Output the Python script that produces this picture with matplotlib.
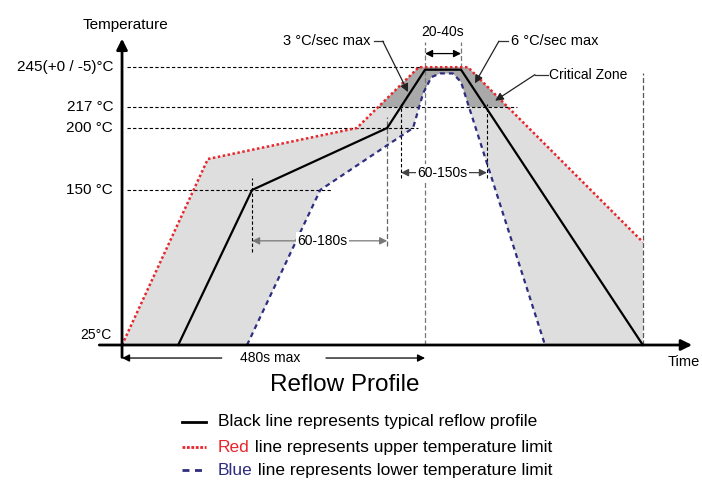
import numpy as np
import matplotlib
matplotlib.use('Agg')
import matplotlib.pyplot as plt
from matplotlib.patches import Polygon, Rectangle

plt.rcParams['font.family'] = ['Liberation Sans', 'DejaVu Sans']

# profile points (time in s, temperature in C)
red_t = [0, 136, 372, 470, 548, 825]
red_T = [25, 175, 200, 249, 249, 108]
black_t = [89, 206, 420, 480, 537, 825]
black_T = [25, 150, 200, 247, 247, 25]
blue_t = [198, 314, 461, 477, 490, 504, 524, 537, 670]
blue_T = [25, 150, 200, 228, 241, 244, 244, 237, 25]

temp_ticks = [249, 217, 200, 150]
temp_labels = ['245(+0 / -5)°C', '217 °C', '200 °C', '150 °C']
ref_end = [472, 625, 469, 333]   # where each horizontal guide stops
critical_T = 217

RED = '#e8262b'
BLUE = '#2e2d7f'
LIGHT = '#dedede'
DARK = '#a9a9a9'

fig = plt.figure(figsize=(7.02, 4.87), dpi=100)
ax = fig.add_axes([0, 0, 1, 1])
ax.set_xlim(-193.3, 918.7)
ax.set_ylim(-89.5, 303.2)
ax.axis('off')

# ---- shaded band between upper and lower limit ----
band = list(zip(red_t, red_T)) + [(red_t[-1], 25)] + list(zip(blue_t[::-1], blue_T[::-1]))
ax.add_patch(Polygon(band, closed=True, facecolor=LIGHT, edgecolor='none', zorder=1))
crit = Polygon(band, closed=True, facecolor=DARK, edgecolor='none', zorder=1.5)
ax.add_patch(crit)
clip = Rectangle((-200, critical_T), 1200, 200, transform=ax.transData)
crit.set_clip_path(clip)

# ---- guide lines ----
dash = dict(color='k', lw=0.8, ls=(0, (3, 2)), zorder=2)
for T, te in zip(temp_ticks, ref_end):
    ax.plot([8, te], [T, T], **dash)
ax.plot([206, 206], [100, 160], **dash)
ax.plot([420, 420], [105, 209], color='#666', lw=0.9, ls=(0, (4, 2)), zorder=2)
ax.plot([442, 442], [160, 219], **dash)
ax.plot([578, 578], [160, 219], **dash)
ax.plot([480, 480], [25, 269], color='#777', lw=0.9, ls=(0, (4, 2)), zorder=2)
ax.plot([537, 537], [248, 269], color='#777', lw=0.9, ls=(0, (4, 2)), zorder=2)
ax.plot([825, 825], [25, 244], color='#555', lw=0.9, ls=(0, (4, 2)), zorder=2)

# ---- profile lines ----
ax.plot(red_t, red_T, color=RED, lw=1.8, ls=(0, (1, 1)), zorder=4)
ax.plot(blue_t, blue_T, color=BLUE, lw=1.6, ls=(0, (2.2, 1.8)), zorder=4)
ax.plot(black_t, black_T, color='k', lw=1.6, zorder=5)

# ---- axes with arrow heads ----
ax.annotate('', xy=(0, 272), xytext=(0, 15),
            arrowprops=dict(arrowstyle='-|>', lw=2, color='k', mutation_scale=16,
                            shrinkA=0, shrinkB=0), zorder=6)
ax.annotate('', xy=(903, 25), xytext=(-36, 25),
            arrowprops=dict(arrowstyle='-|>', lw=2, color='k', mutation_scale=16,
                            shrinkA=0, shrinkB=0), zorder=6)
ax.text(5, 283, 'Temperature', ha='center', va='center', fontsize=11)
ax.text(889, 11, 'Time', ha='center', va='center', fontsize=10.5)
for T, lab in zip(temp_ticks, temp_labels):
    ax.text(-14, T, lab, ha='right', va='center', fontsize=11)
ax.text(-16, 33, '25°C', ha='right', va='center', fontsize=10)

# ---- interval arrows ----
def harrow(x0, x1, y, color='k', both=True):
    style = '<|-|>' if both else '-|>'
    ax.annotate('', xy=(x1, y), xytext=(x0, y),
                arrowprops=dict(arrowstyle=style, color=color, lw=0.9, mutation_scale=11,
                                shrinkA=0, shrinkB=0), zorder=6)

harrow(158, 0, 14.5, both=False)
harrow(323, 480, 14.5, both=False)
ax.text(234, 14.5, '480s max', ha='center', va='center', fontsize=10)

harrow(206, 420, 109, color='#777')
ax.text(318, 109, '60-180s', ha='center', va='center', fontsize=10, zorder=7,
        bbox=dict(facecolor='white', edgecolor='none', pad=1))

harrow(442, 578, 164, color='#444')
ax.text(508, 164, '60-150s', ha='center', va='center', fontsize=10, zorder=7,
        bbox=dict(facecolor='white', edgecolor='none', pad=1))

harrow(480, 537, 260)
ax.text(508, 277, '20-40s', ha='center', va='center', fontsize=10)

# ---- leader notes ----
def leader(text, txy, ha, p0, p1, tip, fs):
    ax.text(txy[0], txy[1], text, ha=ha, va='center', fontsize=fs)
    ax.plot([p0[0], p1[0]], [p0[1], p1[1]], color='#333', lw=0.9, zorder=6)
    ax.annotate('', xy=tip, xytext=p1,
                arrowprops=dict(arrowstyle='-|>', color='#222', lw=0.9, mutation_scale=12,
                                shrinkA=0, shrinkB=0), zorder=6)

leader('3 °C/sec max', (394, 270), 'right', (399, 270), (413, 270), (453, 229), 10.5)
leader('6 °C/sec max', (616, 270), 'left', (611, 270), (597, 270), (559, 236), 10.5)
leader('Critical Zone', (677, 243), 'left', (675, 243), (654, 243), (591, 222), 10)

# ---- caption and legend ----
fig.text(0.491, 0.209, 'Reflow Profile', ha='center', va='center', fontsize=17.5)
ly = [0.1335, 0.0821, 0.0349]
fig.add_artist(plt.Line2D([0.259, 0.293], [ly[0]] * 2, color='k', lw=2))
fig.add_artist(plt.Line2D([0.259, 0.293], [ly[1]] * 2, color=RED, lw=2, ls=(0, (1, 0.6))))
fig.add_artist(plt.Line2D([0.259, 0.293], [ly[2]] * 2, color=BLUE, lw=2, ls=(0, (2.5, 2))))
fig.text(0.3105, ly[0], 'Black line represents typical reflow profile', va='center', fontsize=12.5)
for y, word, col, rest in [(ly[1], 'Red', RED, ' line represents upper temperature limit'),
                           (ly[2], 'Blue', BLUE, ' line represents lower temperature limit')]:
    t1 = fig.text(0.3105, y, word, va='center', fontsize=12.5, color=col)
    ax.annotate(rest, xy=(1, 0), xycoords=t1, va='bottom', ha='left', fontsize=12.5)

fig.savefig('out.png', dpi=100)
